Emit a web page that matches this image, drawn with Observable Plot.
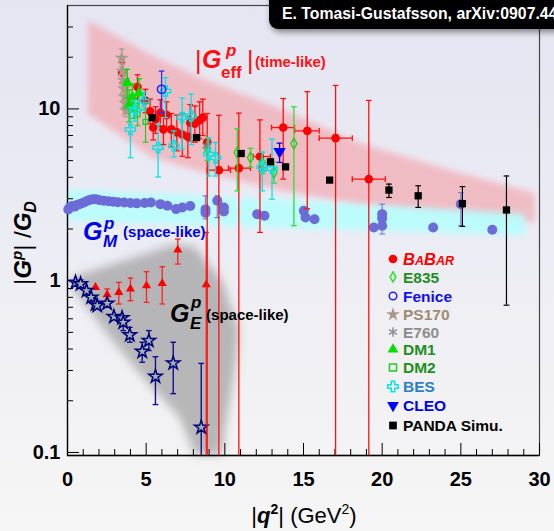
<!DOCTYPE html>
<html><head><meta charset="utf-8">
<script src="https://cdn.jsdelivr.net/npm/d3@7"></script>
<script src="https://cdn.jsdelivr.net/npm/@observablehq/plot@0.6"></script>
<style>
html,body{margin:0;padding:0;width:554px;height:531px;overflow:hidden;}
body{background:linear-gradient(to bottom,#e5e5f2 0%,#eaeaf4 35%,#f1f1f4 70%,#f6f6f6 100%);}
#chart{position:relative;width:554px;height:531px;}
svg{display:block;}
</style></head><body><div id="chart"></div>
<script>
// ---------------- DATA ----------------
// time-like |G_eff| : [q2, value, errLow, errHigh, q2Low, q2High]
const babar = [
 [3.47,16.3,14.2,18.6],[4.45,13.4,11.2,15.8],[4.95,11.2,9.5,13.0],[5.25,9.7,8.2,11.4],
 [5.6,8.7,7.2,10.3],[5.9,9.5,7.9,11.3],[6.3,9.2,7.6,11.0],[5.45,7.8,6.6,9.2],
 [6.1,7.6,6.2,9.1],[6.6,7.6,6.0,9.4],[6.95,7.3,5.7,9.2],[7.3,7.1,5.3,9.4],
 [7.65,6.9,5.2,9.0],[7.8,8.3,6.5,10.6],[8.1,8.2,6.4,10.4],[8.4,8.6,6.7,11.0],
 [8.6,8.9,7.0,11.4],[8.88,6.4,0.05,9.4],
 [9.62,4.4,0.05,9.18,8.88,10.36],[10.89,4.52,0.05,9.45,10.23,11.63],
 [12.23,5.28,1.91,8.63,11.8,12.9],[13.71,7.79,3.9,11.5,12.97,14.43],
 [15.24,7.45,2.62,12.6,14.43,16.0],[17.04,6.76,0.05,13.7,16.0,18.1],
 [19.15,3.9,0.05,11.2,18.1,20.2]
];
const e835 = [[8.9,5.8,5.0,6.8],[10.79,5.57,3.33,7.67],[11.63,5.21,4.6,5.89],[12.38,4.87,4.2,5.6],[13.12,4.26,3.7,4.9],[14.39,6.28,2.09,10.3]];
const fenice = [[5.98,13.0,9.5,16.6]];
const ps170 = [[3.45,19.8,17.6,22.3],[3.5,16.6,15.0,18.2],[3.56,14.7,13.4,16.0],[3.6,13.1,12.0,14.2],[3.63,11.8,10.9,12.8],[3.67,10.8,10.0,11.7],[3.72,9.8,9.0,10.6]];
const e760 = [[8.84,6.1],[12.38,4.45]];
const dm1 = [[3.8,14.2,11.6,17.0],[3.92,10.5,8.4,12.9],[4.12,11.7,9.6,14.0],[4.55,12.4,10.0,15.0]];
const dm2 = [[4.2,10.1,8.8,11.6],[4.45,9.3,8.0,10.8],[4.96,8.4,6.4,10.9]];
const bes = [[4.0,7.6,5.2,10.2],[4.3,9.8,8.5,11.2],[4.85,11.1,9.8,12.5],[5.76,5.96,4.02,8.15],[6.23,12.7,8.9,15.2],[6.76,6.1,5.25,7.45],[7.29,8.9,5.83,11.6],[7.86,9.1,6.2,12.2],[8.98,5.45,4.07,6.8],[9.41,5.2,4.07,6.37],[12.38,4.6,3.33,5.6],[13.0,4.5,2.98,6.67]];
const cleo = [[13.48,5.65,4.88,6.32]];
const panda = [[5.38,8.9],[8.2,6.81],[11.04,5.5],[12.9,4.92],[13.86,4.6],[16.66,3.85],[20.43,3.37,3.05,3.65],[22.29,3.12,2.67,3.57],[25.1,2.81,2.07,3.53],[27.9,2.58,0.72,4.07]];
// space-like G_M
const gmSpace = [
 [0.05,2.6],[0.15,2.68],[0.3,2.72],[0.45,2.7],[0.6,2.76],[0.8,2.8],[1.0,2.84],[1.2,2.9],[1.4,2.95],
 [1.6,2.98],[1.8,2.98],[2.0,2.95],[2.3,2.92],[2.6,2.9],[2.9,2.88],[3.2,2.86],[3.6,2.85],[4.0,2.83],
 [4.4,2.82],[4.9,2.83],[5.3,2.85],[5.9,2.79],[6.35,2.73],[6.9,2.61],[7.3,2.67],[7.8,2.72],
 [8.77,2.6,2.29,3.12],[8.77,2.49],[9.52,2.92,2.33,3.12],[9.94,2.67],[9.94,2.53],[12.06,2.44],[12.52,2.39],
 [15.02,2.55],[15.13,2.33],[15.7,2.28],[19.47,2.04],[20.0,2.44],[20.0,2.3,1.87,2.79],[20.0,2.09],
 [23.24,2.04],[25.0,2.79,2.09,3.26],[27.0,1.98]
];
// space-like G_E (stars) and red triangles
const geStars = [[0.51,0.977],[0.83,0.956],[1.21,0.875],[1.5,0.80],[1.78,0.73],[1.89,0.716],[2.52,0.738],[2.95,0.617],[3.47,0.607],[3.54,0.572,0.512,0.626],[3.96,0.483,0.438,0.535],[4.75,0.387,0.335,0.438],[5.17,0.448,0.392,0.512],[5.59,0.277,0.19,0.361],[6.72,0.331,0.22,0.438],[8.5,0.140,0.05,0.33]];
const geTriangles = [[1.78,0.914],[2.52,0.829,0.772,0.895],[3.26,0.855,0.732,0.977],[4.0,0.895,0.765,1.036],[5.02,0.935,0.748,1.128],[6.02,0.964,0.732,1.206],[7.01,1.51,1.25,1.747],[8.82,0.948,0.05,1.91]];
// shaded bands
const effBandQ = [1.33,5.4,8.46,13.54,18.63,24.35,29.75];
const effBandHi = [32.5,20.3,15.1,10.0,6.26,4.36,3.2];
const effBandLo = [9.35,5.19,4.3,3.34,2.73,2.39,2.17];
const gmBandQ = [0.06,14.8,29.1];
const gmBandHi = [3.4,2.9,2.45];
const gmBandLo = [2.2,2.0,1.82];
const geBandQ = [0.32,2.86,4.96,6.67,7.12,8.14,9.85,10.04,10.68,10.93];
const geBandHi = [1.04,1.24,1.42,1.6,1.62,1.56,1.0,0.886,0.597,0.512];
const geBandLo = [0.91,0.448,0.262,0.178,0.16,0.09,0.09,0.134,0.30,0.512];
// ticks
const xMajor = [0,5,10,15,20,25,30];
const xMinor = [1,2,3,4,6,7,8,9,11,12,13,14,16,17,18,19,21,22,23,24,26,27,28,29];
const yMajor = [0.1,1,10];
const yMinor = [0.2,0.3,0.4,0.5,0.6,0.7,0.8,0.9,2,3,4,5,6,7,8,9,20,30];
const legendNames = ["BABAR","E835","Fenice","PS170","E760","DM1","DM2","BES","CLEO","PANDA Simu."];

// ---------------- DRAWING ----------------
const FONT = '"Liberation Sans", Arial, Helvetica, sans-serif';
const W = 554, H = 531, mL = 67, mR = 15, mT = 5, mB = 76;
const yMin = 0.096, yMax = 40;
const frameW = W - mL - mR, frameH = H - mT - mB;

const toObj = rows => rows.map(r => ({q: r[0], v: r[1], lo: r[2], hi: r[3], qlo: r[4], qhi: r[5]}));
const band = (qs, hi, lo) => qs.map((q, i) => ({q, hi: hi[i], lo: lo[i]}));

const hcap = {draw(ctx, size) { const w = Math.sqrt(size) / 2; ctx.moveTo(-w, 0); ctx.lineTo(w, 0); }};
const vcap = {draw(ctx, size) { const w = Math.sqrt(size) / 2; ctx.moveTo(0, -w); ctx.lineTo(0, w); }};
const triDown = {draw(ctx, size) {
  const s3 = Math.sqrt(3), y = -Math.sqrt(size / (s3 * 3));
  ctx.moveTo(0, -2 * y); ctx.lineTo(-s3 * y, y); ctx.lineTo(s3 * y, y); ctx.closePath();
}};
const capR = 3.2;

function errMarks(rows, color, sw = 1.2) {
  const all = toObj(rows);
  const d = all.filter(r => r.lo != null);
  const m = [
    Plot.ruleX(d, {x: "q", y1: r => Math.max(r.lo, yMin), y2: r => Math.min(r.hi, yMax), stroke: color, strokeWidth: sw}),
    Plot.dot(d.filter(r => r.lo > yMin), {x: "q", y: "lo", symbol: hcap, r: capR, stroke: color, fill: "none", strokeWidth: sw}),
    Plot.dot(d, {x: "q", y: "hi", symbol: hcap, r: capR, stroke: color, fill: "none", strokeWidth: sw})
  ];
  const h = all.filter(r => r.qlo != null);
  if (h.length) {
    m.push(Plot.ruleY(h, {y: "v", x1: "qlo", x2: "qhi", stroke: color, strokeWidth: sw}));
    m.push(Plot.dot(h, {x: "qlo", y: "v", symbol: vcap, r: capR, stroke: color, fill: "none", strokeWidth: sw}));
    m.push(Plot.dot(h, {x: "qhi", y: "v", symbol: vcap, r: capR, stroke: color, fill: "none", strokeWidth: sw}));
  }
  return m;
}
const pts = (rows, opts) => Plot.dot(toObj(rows), {x: "q", y: "v", ...opts});

const plot = Plot.plot({
  width: W, height: H,
  marginLeft: mL, marginRight: mR, marginTop: mT, marginBottom: mB,
  style: {background: "transparent", fontFamily: FONT, fontSize: "20px", fontWeight: "bold", color: "#000", overflow: "visible"},
  x: {domain: [0, 30], ticks: xMajor, tickSize: 0, tickPadding: 16, tickFormat: d => String(d), label: null},
  y: {type: "log", domain: [yMin, yMax], ticks: yMajor, tickSize: 0, tickPadding: 7, tickFormat: d => String(d), label: null},
  marks: [
    Plot.areaY(band(effBandQ, effBandHi, effBandLo), {x: "q", y1: "lo", y2: "hi", fill: "#f4a0a6", fillOpacity: 0.62}),
    Plot.areaY(band(gmBandQ, gmBandHi, gmBandLo), {x: "q", y1: "lo", y2: "hi", fill: "#b4ffff", fillOpacity: 0.85}),
    Plot.areaY(band(geBandQ, geBandHi, geBandLo), {x: "q", y1: d => Math.max(d.lo, yMin), y2: "hi", fill: "#8c8c8c", fillOpacity: 0.58}),
    Plot.frame({stroke: "#444", strokeWidth: 1.2}),
    Plot.ruleX([0], {stroke: "#000", strokeWidth: 1.3}),
    Plot.ruleY([yMin], {stroke: "#000", strokeWidth: 1.3}),
    Plot.tickX(xMinor, {x: d => d, insetTop: frameH - 6, stroke: "#000", strokeWidth: 1}),
    Plot.tickX(xMajor, {x: d => d, insetTop: frameH - 12, stroke: "#000", strokeWidth: 1}),
    Plot.tickY(yMinor, {y: d => d, insetRight: frameW - 6, stroke: "#000", strokeWidth: 1}),
    Plot.tickY(yMajor, {y: d => d, insetRight: frameW - 12, stroke: "#000", strokeWidth: 1}),
    // space-like G_M
    ...errMarks(gmSpace, "#7c7ce4", 1.2),
    pts(gmSpace, {r: 5, fill: "#6c6cd8", stroke: "none"}),
    // space-like G_E
    ...errMarks(geTriangles, "#ff2020", 1.3),
    pts(geTriangles, {symbol: "triangle", r: 3.4, fill: "#ff0000", stroke: "none"}),
    ...errMarks(geStars, "#101090", 1.4),
    pts(geStars, {symbol: "star", r: 4.2, fill: "#9fb3b3", stroke: "#00007a", strokeWidth: 1.5}),
    // time-like
    ...errMarks(babar, "#ff1010", 1.3),
    pts(babar, {r: 4.3, fill: "#ff0000", stroke: "none"}),
    ...errMarks(ps170, "#a89a88", 1.2),
    pts(ps170, {symbol: "star", r: 4.5, fill: "#a89a88", stroke: "none"}),
    ...errMarks(dm1, "#00dd00", 1.3),
    pts(dm1, {symbol: "triangle", r: 4.3, fill: "#00e000", stroke: "none"}),
    ...errMarks(dm2, "#22cc22", 1.2),
    pts(dm2, {symbol: "square", r: 2.8, fill: "none", stroke: "#22cc22", strokeWidth: 1.3}),
    ...errMarks(e835, "#33dd33", 1.3),
    pts(e835, {symbol: "diamond", r: 3.3, fill: "none", stroke: "#22cc22", strokeWidth: 1.3}),
    pts(e760, {symbol: "asterisk", r: 4.6, fill: "none", stroke: "#808080", strokeWidth: 1.4}),
    ...errMarks(bes, "#00e6e6", 1.3),
    pts(bes, {symbol: "cross", r: 4.3, fill: "none", stroke: "#00e6e6", strokeWidth: 1.4}),
    ...errMarks(fenice, "#3030ff", 1.3),
    pts(fenice, {r: 4.2, fill: "none", stroke: "#2020ff", strokeWidth: 1.5}),
    ...errMarks(cleo, "#0000ff", 1.3),
    pts(cleo, {symbol: triDown, r: 4.6, fill: "#0000ff", stroke: "none"}),
    ...errMarks(panda, "#000000", 1.2),
    pts(panda, {symbol: "square", r: 4.1, fill: "#000", stroke: "none"})
  ]
});
document.getElementById("chart").appendChild(plot);

// ---------- post-processing: blur bands, labels, legend, titles ----------
const svg = d3.select(plot);
const sx = plot.scale("x"), sy = plot.scale("y");
const X = q => sx.apply(q), Y = v => sy.apply(v);
const defs = svg.insert("defs", ":first-child");
[["blurPink", 3], ["blurCyan", 3], ["blurGray", 5], ["blurShadow", 3]].forEach(([id, s]) => {
  defs.append("filter").attr("id", id).attr("x", "-20%").attr("y", "-20%").attr("width", "140%").attr("height", "140%")
    .append("feGaussianBlur").attr("stdDeviation", s);
});
const areas = svg.selectAll('g[aria-label="area"]').nodes();
["blurPink", "blurCyan", "blurGray"].forEach((f, i) => { if (areas[i]) d3.select(areas[i]).attr("filter", `url(#${f})`); });

function txt(x, y, s, o = {}) {
  return svg.append("text").attr("x", x).attr("y", y).text(s)
    .style("font-family", FONT).style("font-size", (o.size || 16) + "px")
    .style("font-weight", o.weight || "bold").style("font-style", o.italic ? "italic" : "normal")
    .attr("fill", o.color || "#000").attr("text-anchor", o.anchor || "start");
}

// |G_eff^p| (time-like)
{
  const ax = X(8.2), ay = Y(17.1), c = "#ff1010";
  txt(ax - 1, ay + 1, "|", {size: 25, weight: "normal", color: c});
  txt(ax + 6, ay, "G", {size: 25, italic: true, color: c});
  txt(ax + 30, ay - 12, "p", {size: 17, italic: true, color: c});
  txt(ax + 25, ay + 10, "eff", {size: 17, color: c});
  txt(ax + 51, ay + 1, "|", {size: 25, weight: "normal", color: c});
  txt(ax + 59, ay - 1, "(time-like)", {size: 15, color: c});
}
// G_M^p (space-like)
{
  const ax = X(1.02), ay = Y(1.71), c = "#0000e6";
  txt(ax, ay, "G", {size: 25, italic: true, color: c});
  txt(ax + 21, ay - 11, "p", {size: 17, italic: true, color: c});
  txt(ax + 20, ay + 7, "M", {size: 17, italic: true, color: c});
  txt(ax + 40, ay - 3, "(space-like)", {size: 15, color: c});
}
// G_E^p (space-like)
{
  const ax = X(6.55), ay = Y(0.57), c = "#000";
  txt(ax, ay, "G", {size: 25, italic: true, color: c});
  txt(ax + 21, ay - 14, "p", {size: 17, italic: true, color: c});
  txt(ax + 20, ay + 7, "E", {size: 17, italic: true, color: c});
  txt(ax + 36, ay - 2, "(space-like)", {size: 15, color: c});
}

// legend
{
  const lx = 393, tx = 403;
  const rowsY = [259, 277, 296, 314.5, 332, 349.5, 367.5, 386.5, 405.5, 425.5];
  const sym = [
    {t: d3.symbolCircle, s: 60, fill: "#ff0000", stroke: "none", tc: "#ff0000"},
    {t: d3.symbolDiamond, s: 30, fill: "none", stroke: "#33dd33", tc: "#1f8f1f"},
    {t: d3.symbolCircle, s: 45, fill: "none", stroke: "#2020ff", tc: "#1010ee"},
    {t: d3.symbolStar, s: 60, fill: "#a89a88", stroke: "none", tc: "#a08c72"},
    {t: d3.symbolAsterisk, s: 60, fill: "none", stroke: "#909090", tc: "#8c8c8c"},
    {t: d3.symbolTriangle, s: 50, fill: "#00e000", stroke: "none", tc: "#1f8f1f"},
    {t: d3.symbolSquare, s: 50, fill: "none", stroke: "#22cc22", tc: "#1f8f1f"},
    {t: d3.symbolCross, s: 60, fill: "none", stroke: "#00e6e6", tc: "#2a80c4"},
    {t: triDown, s: 60, fill: "#0000ff", stroke: "none", tc: "#0000ee"},
    {t: d3.symbolSquare, s: 60, fill: "#000", stroke: "none", tc: "#000"}
  ];
  legendNames.forEach((name, i) => {
    const y = rowsY[i], s = sym[i];
    svg.append("path").attr("d", d3.symbol(s.t, s.s)()).attr("transform", `translate(${lx},${y})`)
      .attr("fill", s.fill).attr("stroke", s.stroke).attr("stroke-width", 1.5);
    if (i === 0) {
      const t = txt(tx, y + 5.5, "", {size: 15.5, italic: true, color: s.tc});
      [["B", 16.5], ["A", 12.5], ["B", 16.5], ["AR", 12.5]].forEach(([c, fs]) => t.append("tspan").text(c).style("font-size", fs + "px"));
    } else {
      txt(tx, y + 5.5, name, {size: 15.5, color: s.tc});
    }
  });
}

// axis titles
{
  const t = svg.append("text").attr("x", 304).attr("y", 523).attr("text-anchor", "middle")
    .style("font-family", FONT).style("font-size", "22px").style("font-weight", "normal").attr("fill", "#000");
  t.append("tspan").text("|");
  t.append("tspan").text("q").style("font-weight", "bold").style("font-style", "italic");
  t.append("tspan").text("2").attr("dy", -9).style("font-size", "14px").style("font-weight", "bold");
  t.append("tspan").text("| (GeV").attr("dy", 9);
  t.append("tspan").text("2").attr("dy", -9).style("font-size", "14px");
  t.append("tspan").text(")").attr("dy", 9);

  const yt = svg.append("text").attr("transform", "translate(31,243) rotate(-90)").attr("text-anchor", "middle")
    .style("font-family", FONT).style("font-size", "24px").style("font-weight", "normal").attr("fill", "#000");
  yt.append("tspan").text("|");
  yt.append("tspan").text("G").style("font-weight", "bold").style("font-style", "italic");
  yt.append("tspan").text("p").attr("dy", -9).style("font-size", "15px").style("font-weight", "bold").style("font-style", "italic");
  yt.append("tspan").text("| /").attr("dy", 9);
  yt.append("tspan").text("G").style("font-weight", "bold").style("font-style", "italic");
  yt.append("tspan").text("D").attr("dy", 5).style("font-size", "16px").style("font-weight", "bold").style("font-style", "italic");
}

// citation box (top right; the reference crops it at the window edge)
{
  svg.append("rect").attr("x", 271).attr("y", -12).attr("width", 300).attr("height", 44).attr("rx", 9)
    .attr("fill", "#000").attr("opacity", 0.45).attr("filter", "url(#blurShadow)");
  svg.append("rect").attr("x", 269).attr("y", -12).attr("width", 300).attr("height", 41).attr("rx", 9).attr("fill", "#000");
  txt(282, 19, "E. Tomasi-Gustafsson, arXiv:0907.4442", {size: 15.8, color: "#fff"});
}
</script></body></html>
